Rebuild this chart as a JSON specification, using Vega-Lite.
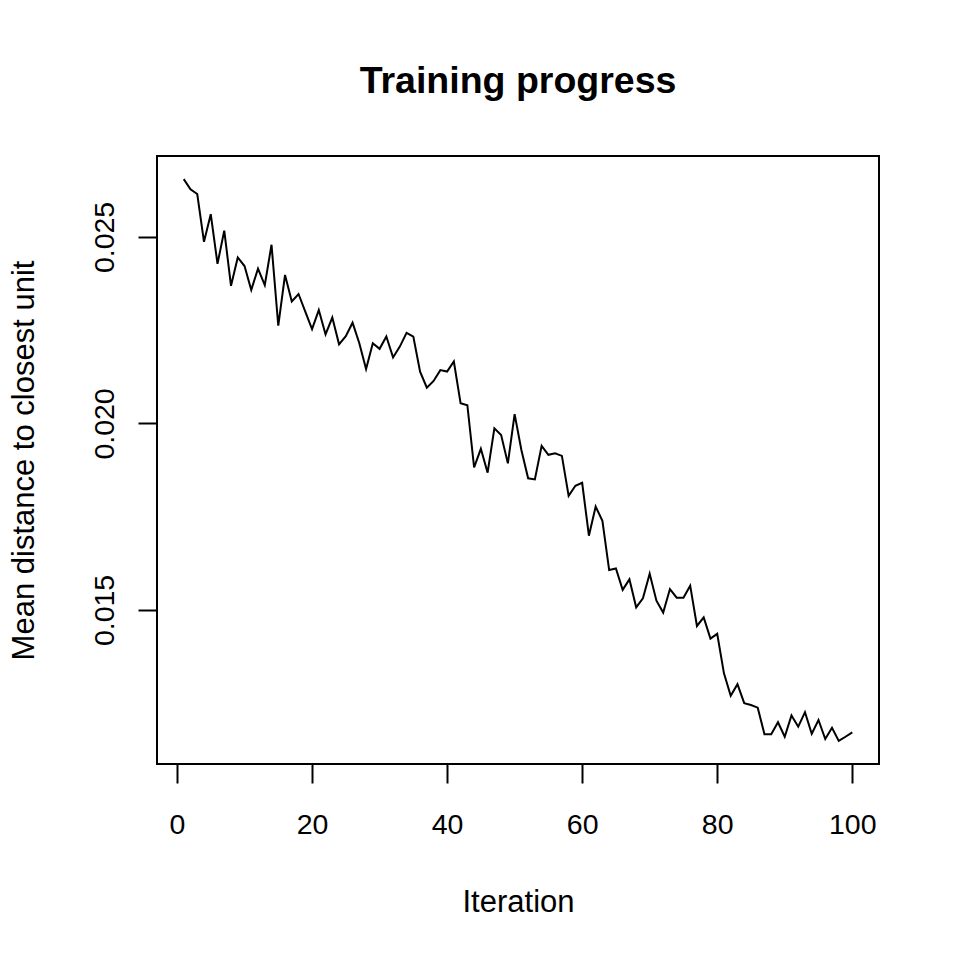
{
  "$schema": "https://vega.github.io/schema/vega-lite/v6.json",
  "autosize": "none",
  "width": 722,
  "height": 608,
  "padding": {"top": 156, "left": 157, "right": 81, "bottom": 196},
  "background": "white",
  "title": {
    "text": "Training progress",
    "font": "Liberation Sans",
    "fontSize": 37.5,
    "fontWeight": "bold",
    "color": "black",
    "anchor": "middle",
    "frame": "group",
    "offset": 56
  },
  "config": {
    "view": {"stroke": "black", "strokeWidth": 2},
    "axis": {
      "domain": false,
      "grid": false,
      "tickColor": "black",
      "tickWidth": 2,
      "tickSize": 19,
      "labelFont": "Liberation Sans",
      "labelFontSize": 28.5,
      "labelColor": "black",
      "titleFont": "Liberation Sans",
      "titleFontSize": 31,
      "titleFontWeight": "normal",
      "titleColor": "black"
    }
  },
  "data": {
    "values": [
      {"iter": 1, "dist": 0.02655}, {"iter": 2, "dist": 0.02628}, {"iter": 3, "dist": 0.02615}, {"iter": 4, "dist": 0.02487}, {"iter": 5, "dist": 0.02561},
      {"iter": 6, "dist": 0.02428}, {"iter": 7, "dist": 0.02517}, {"iter": 8, "dist": 0.02369}, {"iter": 9, "dist": 0.02445}, {"iter": 10, "dist": 0.02422},
      {"iter": 11, "dist": 0.02358}, {"iter": 12, "dist": 0.02415}, {"iter": 13, "dist": 0.02371}, {"iter": 14, "dist": 0.02479}, {"iter": 15, "dist": 0.02262},
      {"iter": 16, "dist": 0.02398}, {"iter": 17, "dist": 0.02327}, {"iter": 18, "dist": 0.02347}, {"iter": 19, "dist": 0.02300}, {"iter": 20, "dist": 0.02253},
      {"iter": 21, "dist": 0.02304}, {"iter": 22, "dist": 0.02239}, {"iter": 23, "dist": 0.02284}, {"iter": 24, "dist": 0.02212}, {"iter": 25, "dist": 0.02234},
      {"iter": 26, "dist": 0.02270}, {"iter": 27, "dist": 0.02215}, {"iter": 28, "dist": 0.02146}, {"iter": 29, "dist": 0.02215}, {"iter": 30, "dist": 0.02200},
      {"iter": 31, "dist": 0.02233}, {"iter": 32, "dist": 0.02177}, {"iter": 33, "dist": 0.02206}, {"iter": 34, "dist": 0.02243}, {"iter": 35, "dist": 0.02233},
      {"iter": 36, "dist": 0.02139}, {"iter": 37, "dist": 0.02096}, {"iter": 38, "dist": 0.02114}, {"iter": 39, "dist": 0.02143}, {"iter": 40, "dist": 0.02139},
      {"iter": 41, "dist": 0.02166}, {"iter": 42, "dist": 0.02054}, {"iter": 43, "dist": 0.02049}, {"iter": 44, "dist": 0.01882}, {"iter": 45, "dist": 0.01932},
      {"iter": 46, "dist": 0.01868}, {"iter": 47, "dist": 0.01987}, {"iter": 48, "dist": 0.01969}, {"iter": 49, "dist": 0.01893}, {"iter": 50, "dist": 0.02025},
      {"iter": 51, "dist": 0.01929}, {"iter": 52, "dist": 0.01853}, {"iter": 53, "dist": 0.01850}, {"iter": 54, "dist": 0.01940}, {"iter": 55, "dist": 0.01916},
      {"iter": 56, "dist": 0.01920}, {"iter": 57, "dist": 0.01913}, {"iter": 58, "dist": 0.01806}, {"iter": 59, "dist": 0.01833}, {"iter": 60, "dist": 0.01841},
      {"iter": 61, "dist": 0.01699}, {"iter": 62, "dist": 0.01777}, {"iter": 63, "dist": 0.01739}, {"iter": 64, "dist": 0.01607}, {"iter": 65, "dist": 0.01611},
      {"iter": 66, "dist": 0.01554}, {"iter": 67, "dist": 0.01582}, {"iter": 68, "dist": 0.01507}, {"iter": 69, "dist": 0.01531}, {"iter": 70, "dist": 0.01597},
      {"iter": 71, "dist": 0.01525}, {"iter": 72, "dist": 0.01493}, {"iter": 73, "dist": 0.01556}, {"iter": 74, "dist": 0.01533}, {"iter": 75, "dist": 0.01533},
      {"iter": 76, "dist": 0.01565}, {"iter": 77, "dist": 0.01457}, {"iter": 78, "dist": 0.01480}, {"iter": 79, "dist": 0.01423}, {"iter": 80, "dist": 0.01436},
      {"iter": 81, "dist": 0.01330}, {"iter": 82, "dist": 0.01270}, {"iter": 83, "dist": 0.01301}, {"iter": 84, "dist": 0.01250}, {"iter": 85, "dist": 0.01245},
      {"iter": 86, "dist": 0.01238}, {"iter": 87, "dist": 0.01167}, {"iter": 88, "dist": 0.01167}, {"iter": 89, "dist": 0.01199}, {"iter": 90, "dist": 0.01160},
      {"iter": 91, "dist": 0.01217}, {"iter": 92, "dist": 0.01187}, {"iter": 93, "dist": 0.01226}, {"iter": 94, "dist": 0.01168}, {"iter": 95, "dist": 0.01205},
      {"iter": 96, "dist": 0.01154}, {"iter": 97, "dist": 0.01184}, {"iter": 98, "dist": 0.01149}, {"iter": 99, "dist": 0.01160}, {"iter": 100, "dist": 0.01172}
    ]
  },
  "mark": {"type": "line", "color": "black", "strokeWidth": 2, "clip": true},
  "encoding": {
    "x": {
      "field": "iter",
      "type": "quantitative",
      "scale": {"domain": [-2.96, 103.96], "nice": false, "zero": false},
      "axis": {
        "title": "Iteration",
        "values": [0, 20, 40, 60, 80, 100],
        "labelPadding": 27,
        "labelBaseline": "top",
        "labelAlign": "center",
        "titleY": 147,
        "titleBaseline": "alphabetic"
      }
    },
    "y": {
      "field": "dist",
      "type": "quantitative",
      "scale": {"domain": [0.01087, 0.02717], "nice": false, "zero": false},
      "axis": {
        "title": "Mean distance to closest unit",
        "values": [0.015, 0.02, 0.025],
        "format": ".3f",
        "labelAngle": -90,
        "labelAlign": "center",
        "labelBaseline": "alphabetic",
        "labelPadding": 25,
        "titleAngle": -90,
        "titleX": -124,
        "titleBaseline": "alphabetic",
        "titleAlign": "center"
      }
    }
  }
}
